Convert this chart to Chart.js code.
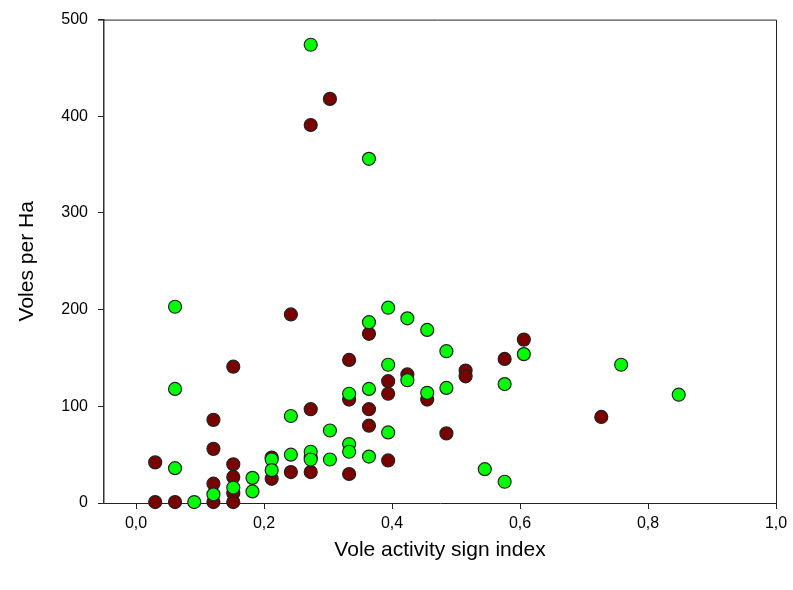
<!DOCTYPE html>
<html>
<head>
<meta charset="utf-8">
<script src="https://cdn.jsdelivr.net/npm/chart.js@4.4.1/dist/chart.umd.min.js"></script>
<style>
  html, body { margin: 0; padding: 0; background: #fff; }
  #wrap { width: 793px; height: 590px; }
</style>
</head>
<body>
<div id="wrap"><canvas id="c"></canvas></div>
<script>
/* ── data ── */
var xTicks = [0, 0.2, 0.4, 0.6, 0.8, 1.0];
var yTicks = [0, 100, 200, 300, 400, 500];

// green series
var greenX = [0.061, 0.061, 0.061, 0.091, 0.121, 0.152, 0.182, 0.182, 0.212, 0.212,
              0.242, 0.242, 0.273, 0.273, 0.273, 0.303, 0.303, 0.333, 0.333, 0.333,
              0.364, 0.364, 0.364, 0.364, 0.394, 0.394, 0.394, 0.424, 0.424, 0.455,
              0.455, 0.485, 0.485, 0.545, 0.576, 0.576, 0.606, 0.758, 0.848];
var greenY = [203, 118, 36, 1, 9, 16, 26, 12, 45, 34,
              90, 50, 474, 53, 45, 75, 45, 113, 61, 53,
              356, 187, 118, 48, 202, 143, 73, 191, 127, 179,
              114, 157, 119, 35, 123, 22, 154, 143, 112];

// dark red series
var redX = [0.030, 0.030, 0.061, 0.121, 0.121, 0.121, 0.121, 0.152, 0.152, 0.152,
            0.152, 0.152, 0.212, 0.212, 0.242, 0.242, 0.273, 0.273, 0.273, 0.273,
            0.303, 0.333, 0.333, 0.333, 0.364, 0.364, 0.364, 0.394, 0.394, 0.394,
            0.424, 0.455, 0.485, 0.515, 0.515, 0.576, 0.606, 0.727];
var redY = [42, 1, 1, 86, 56, 20, 1, 141, 40, 27,
            10, 1, 47, 25, 195, 32, 391, 97, 47, 32,
            418, 148, 107, 30, 175, 97, 80, 126, 113, 44,
            133, 107, 72, 137, 131, 149, 169, 89];

function toPoints(xs, ys){
  return xs.map(function(x, i){ return {x: x, y: ys[i]}; });
}

// top + right frame of the plot box
var frame = {
  id: 'frame',
  afterDraw: function(chart){
    var a = chart.chartArea, ctx = chart.ctx;
    ctx.save();
    ctx.strokeStyle = '#222';
    ctx.lineWidth = 1;
    ctx.beginPath();
    ctx.moveTo(a.left - 6, a.top + 0.5);
    ctx.lineTo(a.right + 0.5, a.top + 0.5);
    ctx.lineTo(a.right + 0.5, a.bottom);
    ctx.stroke();
    ctx.restore();
  }
};

var tickFont = { family: 'Arial, "Liberation Sans", sans-serif', size: 16 };
var titleFont = { family: 'Arial, "Liberation Sans", sans-serif', size: 21 };

new Chart(document.getElementById('c'), {
  type: 'scatter',
  data: {
    datasets: [
      {
        label: 'green',
        data: toPoints(greenX, greenY),
        backgroundColor: '#00ff00',
        borderColor: '#222',
        borderWidth: 1.2,
        pointRadius: 6.5,
        clip: false,
        order: 1
      },
      {
        label: 'red',
        data: toPoints(redX, redY),
        backgroundColor: '#7a0000',
        borderColor: '#222',
        borderWidth: 1.2,
        pointRadius: 6.5,
        clip: false,
        order: 2
      }
    ]
  },
  options: {
    responsive: true,
    maintainAspectRatio: false,
    animation: false,
    layout: { padding: { top: 19, right: 17, left: 0, bottom: 0 } },
    plugins: { legend: { display: false }, tooltip: { enabled: false } },
    scales: {
      x: {
        type: 'linear',
        min: -0.05,
        max: 1.0,
        afterBuildTicks: function(s){ s.ticks = xTicks.map(function(v){ return {value: v}; }); },
        afterFit: function(s){ s.height = 87; },
        grid: { drawOnChartArea: false, tickLength: 6, color: '#222', tickColor: '#222' },
        border: { color: '#222', width: 1 },
        ticks: {
          color: '#000', font: tickFont, padding: 5, maxRotation: 0,
          callback: function(v){ return v.toFixed(1).replace('.', ','); }
        },
        title: {
          display: true, text: 'Vole activity sign index', color: '#000',
          font: titleFont, padding: { top: 0, bottom: 27 }
        }
      },
      y: {
        type: 'linear',
        min: 0,
        max: 500,
        afterBuildTicks: function(s){ s.ticks = yTicks.map(function(v){ return {value: v}; }); },
        afterFit: function(s){ s.width = 104; },
        grid: { drawOnChartArea: false, tickLength: 6, color: '#222', tickColor: '#222' },
        border: { color: '#333', width: 1.5 },
        ticks: { color: '#000', font: tickFont, padding: 10 },
        title: {
          display: true, text: 'Voles per Ha', color: '#000',
          font: titleFont, padding: { top: 15, bottom: 0 }
        }
      }
    }
  },
  plugins: [frame]
});
</script>
</body>
</html>
